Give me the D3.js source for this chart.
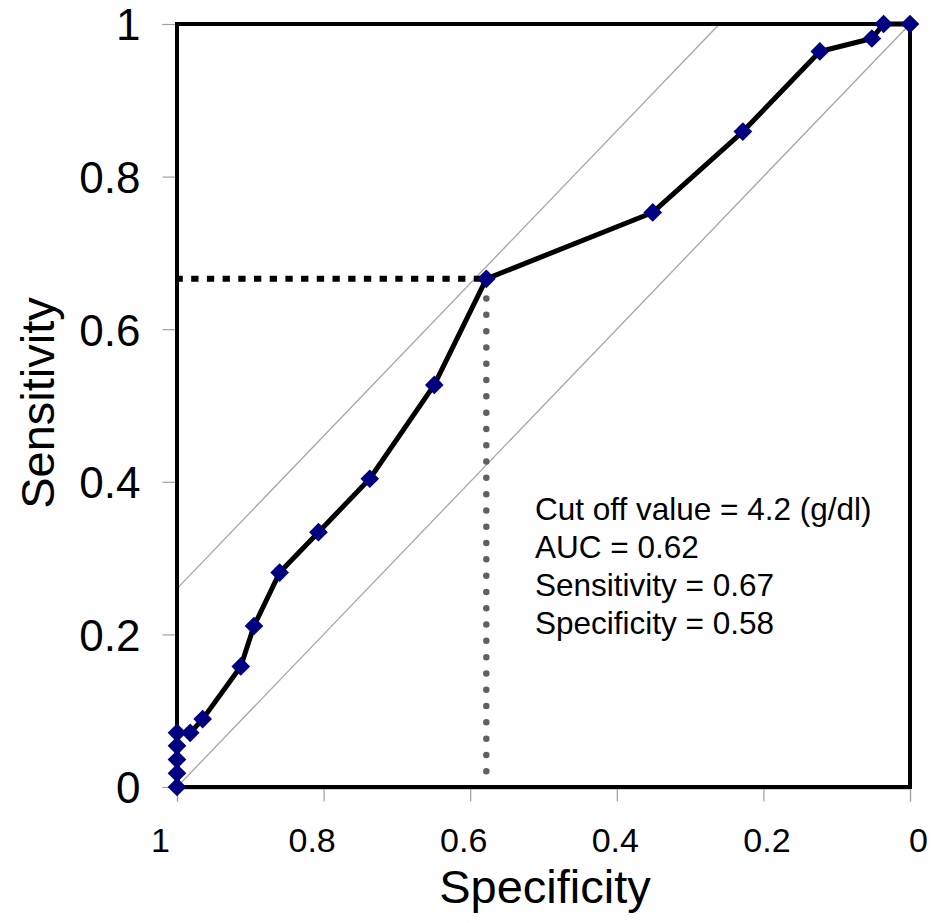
<!DOCTYPE html>
<html>
<head>
<meta charset="utf-8">
<script src="https://cdn.jsdelivr.net/npm/d3@7"></script>
<style>
  html, body { margin: 0; padding: 0; background: #fff; }
  svg { display: block; font-family: "Liberation Sans", Arial, sans-serif; }
</style>
</head>
<body>
<svg id="chart" width="933" height="923"></svg>
<script>
// ---- data ----
const specificity = [1, 1, 1, 1, 1, 0.982, 0.965, 0.913, 0.895, 0.860, 0.807, 0.737, 0.649, 0.578, 0.351, 0.228, 0.123, 0.052, 0.036, 0];
const sensitivity = [0, 0.018, 0.036, 0.054, 0.071, 0.071, 0.089, 0.158, 0.211, 0.281, 0.334, 0.404, 0.527, 0.666, 0.753, 0.859, 0.964, 0.981, 1, 1];
const xTicks = [1, 0.8, 0.6, 0.4, 0.2, 0];
const yTicks = [0, 0.2, 0.4, 0.6, 0.8, 1];
const cutoff = { spec: 0.578, sens: 0.666 };
const refOffsets = [0, 0.26];
const annotation = ["Cut off value = 4.2 (g/dl)", "AUC = 0.62", "Sensitivity = 0.67", "Specificity = 0.58"];
const xTitle = "Specificity";
const yTitle = "Sensitivity";

// ---- layout ----
const L = 177, R = 910, T = 24, B = 787;
const svg = d3.select("#chart");
const x = d3.scaleLinear().domain([1, 0]).range([L, R]);
const y = d3.scaleLinear().domain([0, 1]).range([B, T]);
const xLab = d3.scaleLinear().domain([1, 0]).range([160, 918]);

// y axis ticks (gray, outward)
const gy = svg.append("g").attr("transform", `translate(${L - 1.5},0)`)
  .call(d3.axisLeft(y).tickValues(yTicks).tickSize(13).tickFormat(d => d3.format("")(d)));
gy.selectAll("path,line").attr("stroke", "#a0a0a0").attr("stroke-width", 1.2);
gy.selectAll("text").attr("font-size", 44).attr("fill", "#000").attr("x", -35)
  .attr("font-family", "Liberation Sans, Arial, sans-serif").attr("dy", "0.36em");

// x axis ticks (gray)
const gx = svg.append("g").attr("transform", `translate(0,${B + 1.5})`)
  .call(d3.axisBottom(x).tickValues(xTicks).tickSize(13).tickFormat(""));
gx.selectAll("path,line").attr("stroke", "#a0a0a0").attr("stroke-width", 1.2);

// x tick labels
const gxl = svg.append("g").attr("transform", `translate(0,${B})`)
  .call(d3.axisBottom(xLab).tickValues(xTicks).tickSize(0).tickFormat(d => d3.format("")(d)));
gxl.select("path").remove();
gxl.selectAll("text").attr("font-size", 34).attr("fill", "#000")
  .attr("font-family", "Liberation Sans, Arial, sans-serif").attr("y", 65).attr("dy", 0);

// reference lines (gray, slope 1)
refOffsets.forEach(o => {
  svg.append("line")
    .attr("x1", x(1)).attr("y1", y(o)).attr("x2", x(o)).attr("y2", y(1))
    .attr("stroke", "#a6a6a6").attr("stroke-width", 1.3);
});

// cutoff dotted lines
svg.append("line")
  .attr("x1", x(1)).attr("y1", y(cutoff.sens)).attr("x2", x(cutoff.spec)).attr("y2", y(cutoff.sens))
  .attr("stroke", "#000").attr("stroke-width", 6)
  .attr("stroke-dasharray", "7.3 8.4").attr("stroke-dashoffset", 1.5);
svg.append("line")
  .attr("x1", x(cutoff.spec)).attr("y1", y(cutoff.sens)).attr("x2", x(cutoff.spec)).attr("y2", y(0))
  .attr("stroke", "#606060").attr("stroke-width", 6.5).attr("stroke-linecap", "round")
  .attr("stroke-dasharray", "0 16.3").attr("stroke-dashoffset", 12.9);

// border
svg.append("rect").attr("x", L).attr("y", T).attr("width", R - L).attr("height", B - T)
  .attr("fill", "none").attr("stroke", "#000").attr("stroke-width", 4);

// ROC curve
const pts = specificity.map((s, i) => [s, sensitivity[i]]);
svg.append("path").datum(pts)
  .attr("d", d3.line().x(d => x(d[0])).y(d => y(d[1])))
  .attr("fill", "none").attr("stroke", "#000").attr("stroke-width", 5).attr("stroke-linejoin", "round");

// markers (diamonds)
const sym = d3.symbol().type(d3.symbolSquare).size(175);
svg.append("g").selectAll("path").data(pts).join("path")
  .attr("d", sym)
  .attr("transform", d => `translate(${x(d[0])},${y(d[1])}) rotate(45)`)
  .attr("fill", "#000080");

// annotation
svg.append("g").selectAll("text").data(annotation).join("text")
  .attr("x", 535).attr("y", (d, i) => 520 + i * 38)
  .attr("font-size", 31.5).attr("fill", "#000").text(d => d);

// axis titles
svg.append("text").attr("x", 545).attr("y", 903).attr("text-anchor", "middle")
  .attr("font-size", 47).attr("fill", "#000").text(xTitle);
svg.append("text").attr("transform", "translate(54,403) rotate(-90)").attr("text-anchor", "middle")
  .attr("font-size", 47).attr("fill", "#000").text(yTitle);
</script>
</body>
</html>
